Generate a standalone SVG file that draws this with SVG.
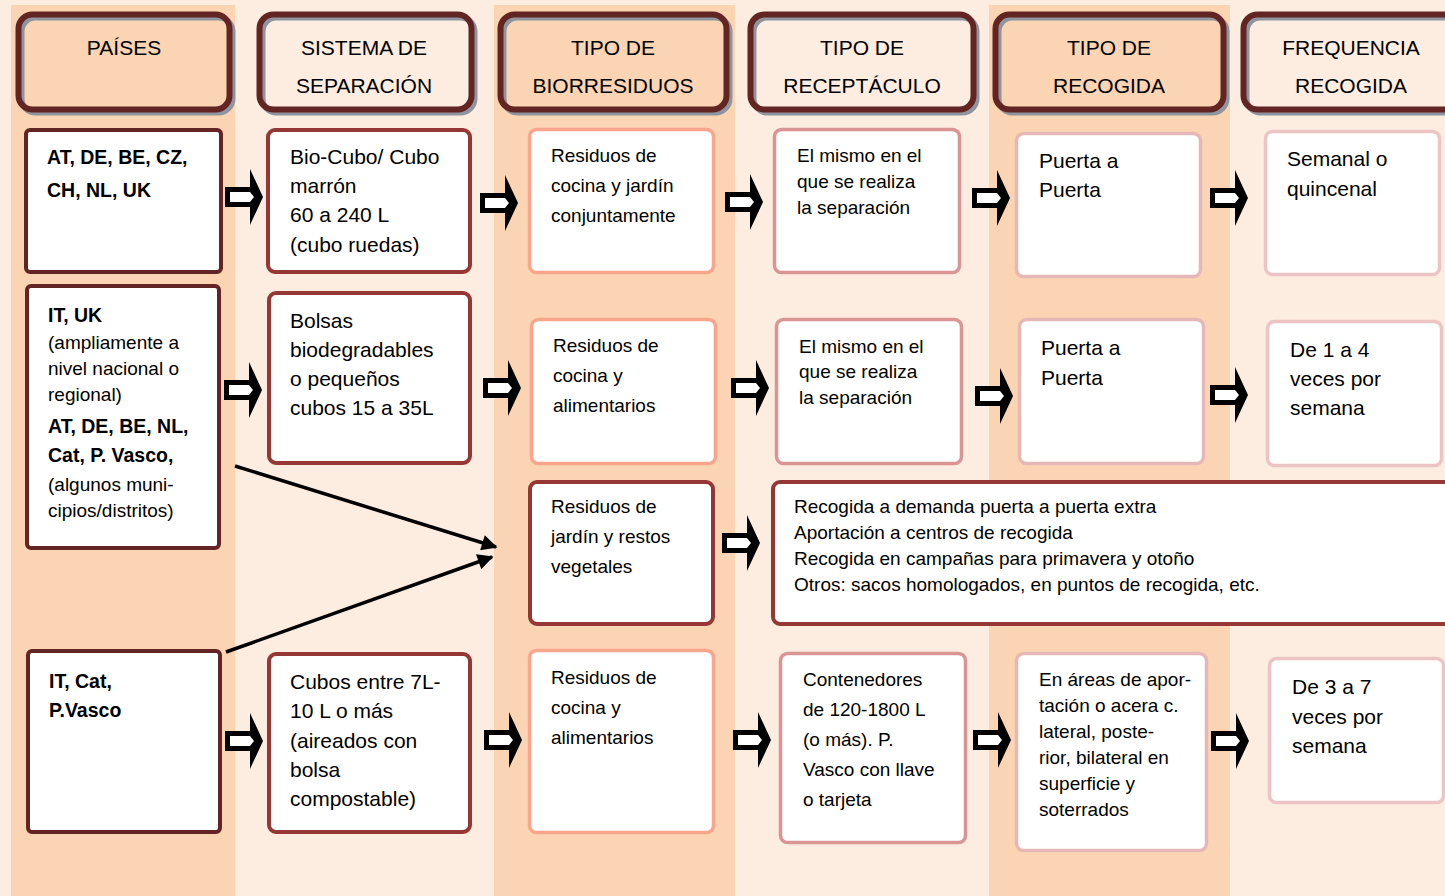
<svg xmlns="http://www.w3.org/2000/svg" width="1445" height="896" viewBox="0 0 1445 896">
<style>
text{font-family:"Liberation Sans",Arial,sans-serif;fill:#000}
.h{font-size:21px;text-anchor:middle}
.b{font-weight:bold;font-size:19.5px}
.t19{font-size:19px}
.t195{font-size:19.5px}
.t21{font-size:21px}
.hf1{fill:#FBD4B4}
.hf2{fill:#FDEDE1}
.hsh{fill:none;stroke:#8E959F;stroke-width:6}
.hst{fill:none;stroke:#632523;stroke-width:6}
.bx{fill:#fff;stroke-width:3.5}
.c1{stroke:#632523;stroke-width:4}
.c2{stroke:#953735;stroke-width:4}
.c3{stroke:#F9A48C}
.c4{stroke:#D99594}
.c5{stroke:#E5B8B7}
.c6{stroke:#EBC4C3}
.diag{stroke:#000;stroke-width:3.5;fill:none}
</style>
<defs>
<g id="barrow">
<polygon points="0,-10 25,-10 25,-28 38,0 25,28 25,10 0,10" fill="#000"/>
<polygon points="5,-5 25,-5 29,0 25,5 5,5" fill="#fff"/>
</g>
<marker id="ah" viewBox="0 0 10 10" refX="9" refY="5" markerWidth="5" markerHeight="4.5" orient="auto" markerUnits="strokeWidth">
<path d="M0,0 L10,5 L0,10 Z" fill="#000"/>
</marker>
</defs>

<!-- background and column stripes -->
<rect x="0" y="0" width="1445" height="896" fill="#FDEDE1"/>
<rect x="11" y="5" width="224" height="891" fill="#FBD4B4"/>
<rect x="494" y="5" width="241" height="891" fill="#FBD4B4"/>
<rect x="989" y="5" width="241" height="891" fill="#FBD4B4"/>

<!-- headers -->
<g id="hdr-paises">
<rect class="hf1" x="18.5" y="14.5" width="211" height="95" rx="14"/>
<rect class="hsh" x="21.5" y="17.5" width="211" height="95" rx="14"/>
<rect class="hst" x="18.5" y="14.5" width="211" height="95" rx="14"/>
<text class="h" x="124" y="55">PAÍSES</text>
</g>
<g id="hdr-sistema">
<rect class="hf2" x="259.5" y="14.5" width="212" height="95" rx="14"/>
<rect class="hsh" x="262.5" y="17.5" width="212" height="95" rx="14"/>
<rect class="hst" x="259.5" y="14.5" width="212" height="95" rx="14"/>
<text class="h" x="364" y="55">SISTEMA DE</text>
<text class="h" x="364" y="93">SEPARACIÓN</text>
</g>
<g id="hdr-biorresiduos">
<rect class="hf1" x="500.5" y="14.5" width="226" height="95" rx="14"/>
<rect class="hsh" x="503.5" y="17.5" width="226" height="95" rx="14"/>
<rect class="hst" x="500.5" y="14.5" width="226" height="95" rx="14"/>
<text class="h" x="613" y="55">TIPO DE</text>
<text class="h" x="613" y="93">BIORRESIDUOS</text>
</g>
<g id="hdr-receptaculo">
<rect class="hf2" x="750.5" y="14.5" width="223" height="95" rx="14"/>
<rect class="hsh" x="753.5" y="17.5" width="223" height="95" rx="14"/>
<rect class="hst" x="750.5" y="14.5" width="223" height="95" rx="14"/>
<text class="h" x="862" y="55">TIPO DE</text>
<text class="h" x="862" y="93">RECEPTÁCULO</text>
</g>
<g id="hdr-recogida">
<rect class="hf1" x="995.5" y="14.5" width="228" height="95" rx="14"/>
<rect class="hsh" x="998.5" y="17.5" width="228" height="95" rx="14"/>
<rect class="hst" x="995.5" y="14.5" width="228" height="95" rx="14"/>
<text class="h" x="1109" y="55">TIPO DE</text>
<text class="h" x="1109" y="93">RECOGIDA</text>
</g>
<g id="hdr-frecuencia">
<rect class="hf2" x="1243.5" y="14.5" width="225" height="95" rx="14"/>
<rect class="hsh" x="1246.5" y="17.5" width="225" height="95" rx="14"/>
<rect class="hst" x="1243.5" y="14.5" width="225" height="95" rx="14"/>
<text class="h" x="1351" y="55">FREQUENCIA</text>
<text class="h" x="1351" y="93">RECOGIDA</text>
</g>

<!-- row 1 -->
<g id="r1c1">
<rect class="bx c1" x="26" y="130" width="195" height="142" rx="4"/>
<text class="b" x="47" y="164">AT, DE, BE, CZ,</text>
<text class="b" x="47" y="197">CH, NL, UK</text>
</g>
<g id="r1c2">
<rect class="bx c2" x="268" y="130" width="202" height="142" rx="7"/>
<text class="t21" x="290" y="164">Bio-Cubo/ Cubo</text>
<text class="t21" x="290" y="193">marrón</text>
<text class="t21" x="290" y="222">60 a 240 L</text>
<text class="t21" x="290" y="252">(cubo ruedas)</text>
</g>
<g id="r1c3">
<rect class="bx c3" x="529.5" y="129.5" width="184" height="143" rx="7"/>
<text class="t19" x="551" y="162">Residuos de</text>
<text class="t19" x="551" y="192">cocina y jardín</text>
<text class="t19" x="551" y="222">conjuntamente</text>
</g>
<g id="r1c4">
<rect class="bx c4" x="774.5" y="129.5" width="185" height="143" rx="7"/>
<text class="t19" x="797" y="162">El mismo en el</text>
<text class="t19" x="797" y="188">que se realiza</text>
<text class="t19" x="797" y="214">la separación</text>
</g>
<g id="r1c5">
<rect class="bx c5" x="1016.5" y="133.5" width="184" height="143" rx="7"/>
<text class="t21" x="1039" y="168">Puerta a</text>
<text class="t21" x="1039" y="197">Puerta</text>
</g>
<g id="r1c6">
<rect class="bx c6" x="1265.5" y="131.5" width="174" height="143" rx="7"/>
<text class="t21" x="1287" y="166">Semanal o</text>
<text class="t21" x="1287" y="196">quincenal</text>
</g>

<!-- row 2 -->
<g id="r2c1">
<rect class="bx c1" x="27" y="286" width="192" height="262" rx="4"/>
<text class="b" x="48" y="322">IT, UK</text>
<text class="t19" x="48" y="349">(ampliamente a</text>
<text class="t19" x="48" y="375">nivel nacional o</text>
<text class="t19" x="48" y="401">regional)</text>
<text class="b" x="48" y="433">AT, DE, BE, NL,</text>
<text class="b" x="48" y="462">Cat, P. Vasco,</text>
<text class="t19" x="48" y="491">(algunos muni-</text>
<text class="t19" x="48" y="517">cipios/distritos)</text>
</g>
<g id="r2c2">
<rect class="bx c2" x="269" y="293" width="201" height="170" rx="7"/>
<text class="t21" x="290" y="328">Bolsas</text>
<text class="t21" x="290" y="357">biodegradables</text>
<text class="t21" x="290" y="386">o pequeños</text>
<text class="t21" x="290" y="415">cubos 15 a 35L</text>
</g>
<g id="r2c3">
<rect class="bx c3" x="531.5" y="319.5" width="184" height="144" rx="7"/>
<text class="t19" x="553" y="352">Residuos de</text>
<text class="t19" x="553" y="382">cocina y</text>
<text class="t19" x="553" y="412">alimentarios</text>
</g>
<g id="r2c4">
<rect class="bx c4" x="776.5" y="319.5" width="185" height="144" rx="7"/>
<text class="t19" x="799" y="353">El mismo en el</text>
<text class="t19" x="799" y="378">que se realiza</text>
<text class="t19" x="799" y="404">la separación</text>
</g>
<g id="r2c5">
<rect class="bx c5" x="1019.5" y="319.5" width="184" height="144" rx="7"/>
<text class="t21" x="1041" y="355">Puerta a</text>
<text class="t21" x="1041" y="385">Puerta</text>
</g>
<g id="r2c6">
<rect class="bx c6" x="1267.5" y="321.5" width="174" height="144" rx="7"/>
<text class="t21" x="1290" y="357">De 1 a 4</text>
<text class="t21" x="1290" y="386">veces por</text>
<text class="t21" x="1290" y="415">semana</text>
</g>

<!-- row 3 -->
<g id="r3c3">
<rect class="bx c2" x="530" y="482" width="183" height="142" rx="7"/>
<text class="t19" x="551" y="513">Residuos de</text>
<text class="t19" x="551" y="543">jardín y restos</text>
<text class="t19" x="551" y="573">vegetales</text>
</g>
<g id="r3wide">
<rect class="bx c2" x="773" y="482" width="680" height="142" rx="7"/>
<text class="t19" x="794" y="513">Recogida a demanda puerta a puerta extra</text>
<text class="t19" x="794" y="539">Aportación a centros de recogida</text>
<text class="t19" x="794" y="565">Recogida en campañas para primavera y otoño</text>
<text class="t19" x="794" y="591">Otros: sacos homologados, en puntos de recogida, etc.</text>
</g>

<!-- row 4 -->
<g id="r4c1">
<rect class="bx c1" x="28" y="651" width="192" height="181" rx="4"/>
<text class="b" x="49" y="688">IT, Cat,</text>
<text class="b" x="49" y="717">P.Vasco</text>
</g>
<g id="r4c2">
<rect class="bx c2" x="269" y="654" width="201" height="178" rx="7"/>
<text class="t21" x="290" y="689">Cubos entre 7L-</text>
<text class="t21" x="290" y="718">10 L o más</text>
<text class="t21" x="290" y="748">(aireados con</text>
<text class="t21" x="290" y="777">bolsa</text>
<text class="t21" x="290" y="806">compostable)</text>
</g>
<g id="r4c3">
<rect class="bx c3" x="529.5" y="650.5" width="184" height="182" rx="7"/>
<text class="t19" x="551" y="684">Residuos de</text>
<text class="t19" x="551" y="714">cocina y</text>
<text class="t19" x="551" y="744">alimentarios</text>
</g>
<g id="r4c4">
<rect class="bx c4" x="780.5" y="653.5" width="185" height="189" rx="7"/>
<text class="t19" x="803" y="686">Contenedores</text>
<text class="t19" x="803" y="716">de 120-1800 L</text>
<text class="t19" x="803" y="746">(o más). P.</text>
<text class="t19" x="803" y="776">Vasco con llave</text>
<text class="t19" x="803" y="806">o tarjeta</text>
</g>
<g id="r4c5">
<rect class="bx c5" x="1016.5" y="653.5" width="190" height="197" rx="7"/>
<text class="t19" x="1039" y="686">En áreas de apor-</text>
<text class="t19" x="1039" y="712">tación o acera c.</text>
<text class="t19" x="1039" y="738">lateral, poste-</text>
<text class="t19" x="1039" y="764">rior, bilateral en</text>
<text class="t19" x="1039" y="790">superficie y</text>
<text class="t19" x="1039" y="816">soterrados</text>
</g>
<g id="r4c6">
<rect class="bx c6" x="1269.5" y="658.5" width="174" height="144" rx="7"/>
<text class="t21" x="1292" y="694">De 3 a 7</text>
<text class="t21" x="1292" y="724">veces por</text>
<text class="t21" x="1292" y="753">semana</text>
</g>

<!-- connectors -->
<g id="connectors">
<use href="#barrow" x="225" y="197"/>
<use href="#barrow" x="480" y="203"/>
<use href="#barrow" x="725" y="202"/>
<use href="#barrow" x="972" y="198"/>
<use href="#barrow" x="1210" y="198"/>

<use href="#barrow" x="224" y="390"/>
<use href="#barrow" x="483" y="388"/>
<use href="#barrow" x="731" y="388"/>
<use href="#barrow" x="975" y="396"/>
<use href="#barrow" x="1210" y="395"/>

<use href="#barrow" x="722" y="543"/>

<use href="#barrow" x="225" y="741"/>
<use href="#barrow" x="484" y="740"/>
<use href="#barrow" x="733" y="740"/>
<use href="#barrow" x="973" y="740"/>
<use href="#barrow" x="1211" y="741"/>

<line class="diag" x1="235" y1="466" x2="496" y2="547" marker-end="url(#ah)"/>
<line class="diag" x1="226" y1="652" x2="492" y2="557" marker-end="url(#ah)"/>
</g>
</svg>
